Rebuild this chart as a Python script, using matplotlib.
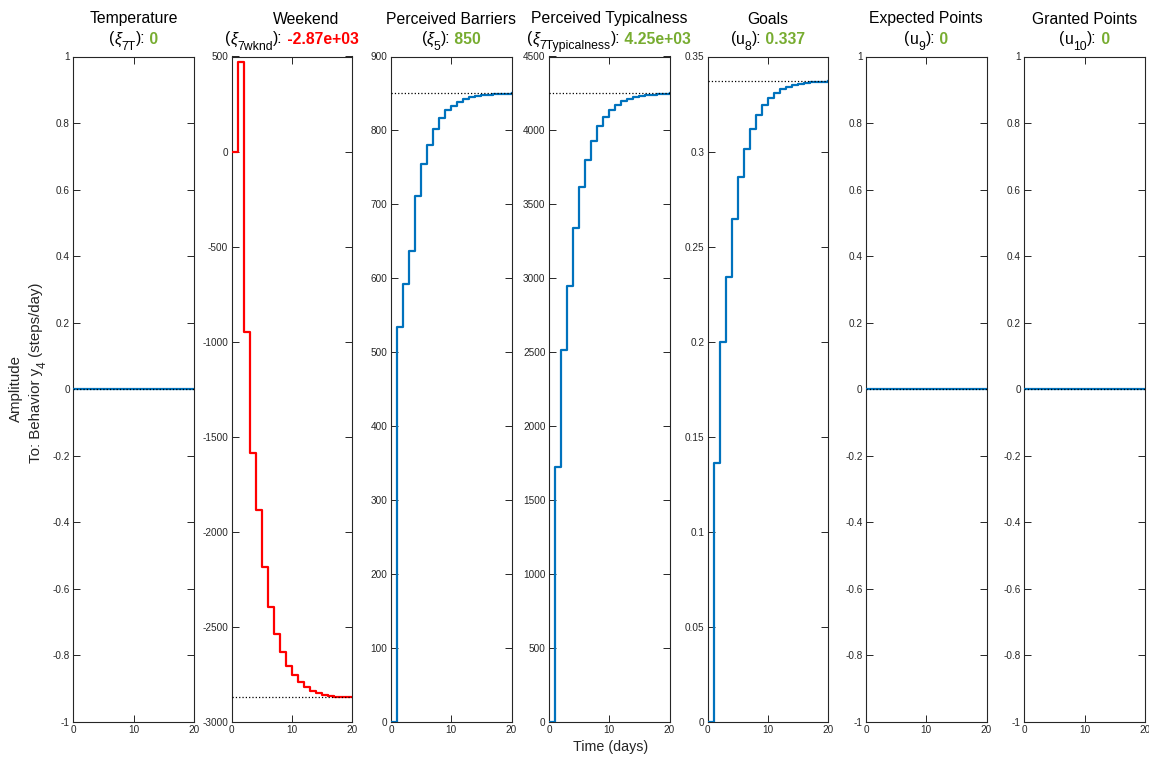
import numpy as np
import matplotlib
matplotlib.use("Agg")
import matplotlib.pyplot as plt
from matplotlib.ticker import FuncFormatter

plt.rcParams['font.family'] = ['Liberation Sans', 'DejaVu Sans']

# ---- data -------------------------------------------------------------
days = np.arange(21)

titles = ['Temperature', 'Weekend', 'Perceived Barriers', 'Perceived Typicalness',
          'Goals', 'Expected Points', 'Granted Points']
symbol_base = ['ξ', 'ξ', 'ξ', 'ξ', 'u', 'u', 'u']
symbol_sub = ['7T', '7wknd', '5', '7Typicalness', '8', '9', '10']

temperature = [0] * 21
weekend = [0, 472, -948, -1587, -1887, -2186, -2396, -2535, -2634, -2705, -2754,
           -2791, -2817, -2835, -2847, -2856, -2862, -2866, -2868, -2869, -2870]
barriers = [0, 534, 592, 637, 712, 754, 780, 802, 817, 827, 833,
            838, 842, 844.6, 846.4, 847.6, 848.5, 849, 849.4, 849.7, 850]
typicalness = [0, 1723, 2515, 2946, 3339, 3616, 3801, 3929, 4027, 4089, 4137,
               4173, 4196, 4214, 4226, 4232, 4238, 4242, 4245, 4247, 4250]
goals = [0, 0.1363, 0.1998, 0.2338, 0.2648, 0.2866, 0.3014, 0.3118, 0.3192, 0.3245,
         0.3282, 0.3308, 0.3329, 0.3340, 0.3350, 0.3356, 0.3361, 0.3364, 0.3366,
         0.3368, 0.3370]
expected_points = [0] * 21
granted_points = [0] * 21

series = [temperature, weekend, barriers, typicalness, goals,
          expected_points, granted_points]
steady_state = [0, -2870, 850, 4250, 0.337, 0, 0]

x_ticks = [0, 10, 20]

# ---- layout -----------------------------------------------------------
W, H = 1149, 757
fig = plt.figure(figsize=(W / 100, H / 100), dpi=100)
renderer = fig.canvas.get_renderer()

lefts = [73.3, 231.7, 391, 549, 707.7, 866, 1024.3]
ax_w = 120.5
ax_top, ax_bot = 56.5, 722
ylims = [(-1, 1), (-3000, 500), (0, 900), (0, 4500), (0, 0.35), (-1, 1), (-1, 1)]
ysteps = [0.2, 500, 100, 500, 0.05, 0.2, 0.2]

BLUE = '#0072BD'
RED = '#FF0000'
GREEN = '#77AC30'
AXC = '#262626'
FS = 11.3
SUB = 0.78


def rich_line(pieces, center, base, rotation=0, color='black'):
    """Lay out pieces (text, size, drop_px, weight, colour, style) along one
    baseline, centred on `center` (pixels).  rotation 0: left-to-right with the
    baseline at y=`base` from the top; rotation 90: bottom-to-top with the
    baseline at x=`base` from the left."""
    objs = []
    for s, size, drop, weight, col, style in pieces:
        t = fig.text(0, 0, s, fontsize=size, fontweight=weight, color=col or color,
                     fontstyle=style, ha='left', va='baseline',
                     rotation=rotation, rotation_mode='anchor')
        ext = t.get_window_extent(renderer)
        length = ext.width if rotation == 0 else ext.height
        objs.append((t, length, drop))
    total = sum(l for _, l, _ in objs)
    pos = center - total / 2
    for t, length, drop in objs:
        if rotation == 0:
            t.set_position((pos / W, 1 - (base + drop) / H))
        else:
            # rotated text advances upward; centre is measured from the top
            t.set_position(((base + drop) / W, 1 - (pos + 0) / H))
        pos += length
    if rotation == 90:
        # flip the ordering so the line reads bottom-to-top around the centre
        pos = center + total / 2
        for t, length, drop in objs:
            t.set_position(((base + drop) / W, 1 - pos / H))
            pos -= length


tick_fmt = FuncFormatter(lambda v, _: '%g' % round(v, 10))

for i in range(7):
    ax = fig.add_axes([lefts[i] / W, (H - ax_bot) / H, ax_w / W, (ax_bot - ax_top) / H])
    y = series[i]
    color = RED if steady_state[i] < 0 else BLUE
    ax.step(days, y, where='post', color=color, lw=1.6, zorder=3)
    ax.plot([days[0], days[-1]], [steady_state[i]] * 2, ls=':', color='black',
            lw=0.9, zorder=4)

    lo, hi = ylims[i]
    ax.set_xlim(0, 20)
    ax.set_ylim(lo, hi)
    ax.set_xticks(x_ticks)
    nt = int(round((hi - lo) / ysteps[i]))
    ax.set_yticks(np.round(np.linspace(lo, hi, nt + 1), 10))
    ax.yaxis.set_major_formatter(tick_fmt)
    ax.tick_params(direction='in', length=4.8, width=0.7, colors=AXC,
                   labelsize=7.2, pad=2.5, top=True, right=True)
    for sp in ax.spines.values():
        sp.set_color(AXC)
        sp.set_linewidth(0.8)

    # two-line heading: name, then symbol with coloured steady-state value
    cx = lefts[i] + ax_w / 2
    shift = 14 if i == 1 else 0
    fig.text((cx + shift) / W, 1 - 23.5 / H, titles[i], ha='center', va='baseline',
             fontsize=FS, color='black')
    value = '%.3g' % steady_state[i]
    vcol = RED if steady_state[i] < 0 else GREEN
    greek = symbol_base[i] == 'ξ'
    rich_line([
        ('(', FS, 0, 'normal', None, 'normal'),
        (symbol_base[i], FS, 0, 'normal', None, 'italic' if greek else 'normal'),
        (symbol_sub[i], FS * SUB, 6, 'normal', None, 'normal'),
        ('):', FS, 0, 'normal', None, 'normal'),
        (' ' + value, FS, 0, 'bold', vcol, 'normal'),
    ], cx, 43.5)

fig.text(15.5 / W, 1 - 388 / H, 'Amplitude', rotation=90, ha='center', va='center',
         fontsize=10.8, color=AXC)
rich_line([
    ('To: Behavior y', 10.8, 0, 'normal', None, 'normal'),
    ('4', 10.8 * SUB, 5.5, 'normal', None, 'normal'),
    (' (steps/day)', 10.8, 0, 'normal', None, 'normal'),
], 373, 40, rotation=90, color=AXC)
fig.text(611 / W, 1 - 747 / H, 'Time (days)', ha='center', va='center',
         fontsize=10.3, color=AXC)

fig.savefig('out.png', dpi=100)
